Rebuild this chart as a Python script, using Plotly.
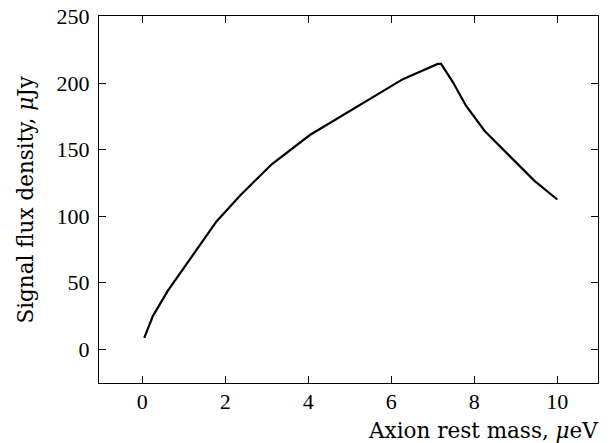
import plotly.graph_objects as go

# Data
mass_ueV = [0.05, 0.26, 0.62, 1.20, 1.79, 2.36, 3.12, 4.04, 4.96, 5.52, 6.28, 7.12, 7.20, 7.48, 7.80, 8.25, 8.88, 9.45, 10.0]
flux_uJy = [8.5, 25.0, 44.0, 70.0, 96.0, 115.5, 139.0, 161.0, 178.5, 189.0, 203.0, 214.5, 214.5, 201.0, 183.0, 164.0, 144.5, 126.5, 112.5]

x_ticks = [0, 2, 4, 6, 8, 10]
y_ticks = [0, 50, 100, 150, 200, 250]

FONT = "Liberation Serif"
TITLE_FONT = "DejaVu Serif"

fig = go.Figure()
fig.add_trace(go.Scatter(x=mass_ueV, y=flux_uJy, mode="lines",
                         line=dict(color="black", width=2.2), showlegend=False))

axis_common = dict(showline=True, mirror="ticks", linecolor="black", linewidth=1.3,
                   ticks="inside", ticklen=7, tickwidth=1.2, tickcolor="black",
                   showgrid=False, zeroline=False, automargin=False,
                   tickfont=dict(family=FONT, size=22, color="black"))

fig.update_xaxes(range=[-1.04, 10.98], tickvals=x_ticks, ticklabelstandoff=-2, **axis_common)
fig.update_yaxes(range=[-25.5, 250.5], tickvals=y_ticks, ticklabelstandoff=4, **axis_common)

fig.add_annotation(text="Axion rest mass, <i>μ</i>eV", xref="paper", yref="paper",
                   x=1.0, xshift=2, y=0, xanchor="right", yanchor="top", yshift=-33,
                   showarrow=False, font=dict(family=TITLE_FONT, size=21.5, color="black"))
fig.add_annotation(text="Signal flux density, <i>μ</i>Jy", xref="paper", yref="paper",
                   x=0, xshift=-74, y=0.5, xanchor="center", yanchor="middle",
                   textangle=-90, showarrow=False,
                   font=dict(family=TITLE_FONT, size=21.5, color="black"))

fig.update_layout(width=612, height=443, margin=dict(l=99, r=14, t=16, b=60, autoexpand=False),
                  plot_bgcolor="white", paper_bgcolor="white")

fig.write_html("out.html", config={"displayModeBar": False},
               post_script="document.body.style.margin='0';document.body.style.overflow='hidden';")
